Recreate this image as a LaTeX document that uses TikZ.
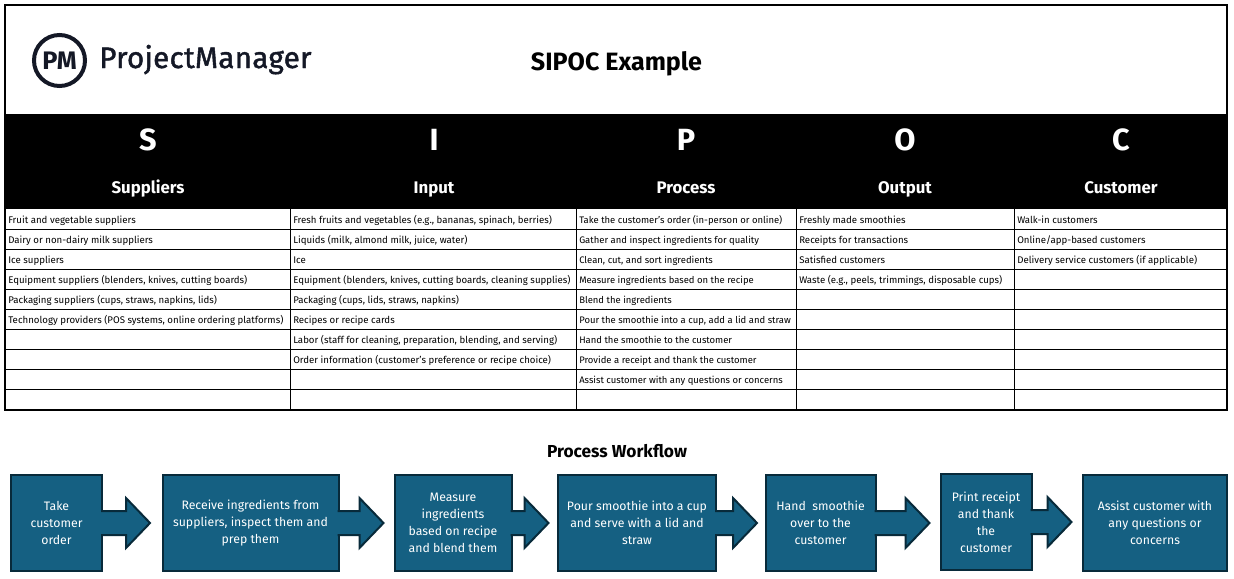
\documentclass[tikz,border=0pt]{standalone}
\usepackage{fontspec}
\setmainfont{Fira Sans}
\usetikzlibrary{positioning,calc}
\definecolor{boxblue}{RGB}{21,96,130}
\definecolor{boxline}{RGB}{8,42,58}
\definecolor{logoink}{RGB}{20,24,38}
\tikzset{
  cell/.style={anchor=base west,inner sep=0pt,font=\fontsize{7.25}{8}\selectfont},
  head/.style={anchor=base,text=white,inner sep=0pt,font=\bfseries\fontsize{12.6}{14}\selectfont},
  letter/.style={anchor=base,text=white,inner sep=0pt,font=\bfseries\fontsize{23}{25}\selectfont},
  stepbox/.style={draw=boxline,line width=1.5pt,fill=boxblue,text=white,align=center,inner sep=0pt,
    font=\fontsize{9.2}{12.8}\selectfont},
  steparrow/.style={draw=boxline,line width=1.5pt,fill=boxblue,line join=miter}
}
\begin{document}
\begin{tikzpicture}[x=0.75pt,y=-0.75pt]
  \useasboundingbox (0,0) rectangle (1234,578);
  % header band and grid
  \fill (5,114) rectangle (1227,209);
  \foreach \y in {229.5,249.5,...,389.5}
    \draw[line width=0.75pt] (5,\y) -- (1227,\y);
  \foreach \x in {290.5,576.5,796.5,1014.5}
    \draw[line width=0.75pt] (\x,209) -- (\x,410);
  \draw[line width=1.5pt] (5,5) rectangle (1227,410);
  % logo
  \node[circle,draw=logoink,line width=3pt,minimum size=38.25pt,inner sep=0pt,text=logoink,
    font=\bfseries\fontsize{19}{21}\selectfont] (logo) at (59.5,60.5) {PM};
  \node[anchor=base west,inner sep=0pt,text=logoink,font=\fontsize{22.2}{24}\selectfont\addfontfeature{LetterSpace=1,FakeBold=1.5}] (brand) at (99,68) {ProjectManager};
  \node[anchor=base,inner sep=0pt,font=\bfseries\fontsize{18.8}{20}\selectfont] (title) at (616.5,70) {SIPOC Example};
  % column heads
  \foreach \n/\x/\l/\h in {s/148/S/Suppliers,i/434/I/Input,p/686/P/Process,o/905/O/Output,c/1121/C/Customer}{
    \node[letter] (let\n) at (\x,150) {\l};
    \node[head] (head\n) at (\x,193.5) {\h};
  }
  % table rows
  \foreach \t [count=\r from 0] in {Fruit and vegetable suppliers,Dairy or non-dairy milk suppliers,Ice suppliers,
    Equipment suppliers (blenders{,} knives{,} cutting boards),Packaging suppliers (cups{,} straws{,} napkins{,} lids),
    Technology providers (POS systems{,} online ordering platforms)}
    \node[cell] (sup\r) at (8,223+20*\r) {\t};
  \foreach \t [count=\r from 0] in {Fresh fruits and vegetables (e.g.{,} bananas{,} spinach{,} berries),Liquids (milk{,} almond milk{,} juice{,} water),Ice,
    Equipment (blenders{,} knives{,} cutting boards{,} cleaning supplies),Packaging (cups{,} lids{,} straws{,} napkins),Recipes or recipe cards,
    Labor (staff for cleaning{,} preparation{,} blending{,} and serving),Order information (customer's preference or recipe choice)}
    \node[cell] (inp\r) at (293,223+20*\r) {\t};
  \foreach \t [count=\r from 0] in {Take the customer's order (in-person or online),Gather and inspect ingredients for quality,Clean{,} cut{,} and sort ingredients,
    Measure ingredients based on the recipe,Blend the ingredients,Pour the smoothie into a cup{,} add a lid and straw,
    Hand the smoothie to the customer,Provide a receipt and thank the customer,Assist customer with any questions or concerns}
    \node[cell,font=\fontsize{7.1}{8}\selectfont] (pro\r) at (579,223+20*\r) {\t};
  \foreach \t [count=\r from 0] in {Freshly made smoothies,Receipts for transactions,Satisfied customers,Waste (e.g.{,} peels{,} trimmings{,} disposable cups)}
    \node[cell] (out\r) at (799,223+20*\r) {\t};
  \foreach \t [count=\r from 0] in {Walk-in customers,Online/app-based customers,Delivery service customers (if applicable)}
    \node[cell] (cus\r) at (1017,223+20*\r) {\t};
  % workflow
  \node[anchor=base,inner sep=0pt,font=\bfseries\fontsize{13}{15}\selectfont] (flow) at (617,457.5) {Process Workflow};
  \foreach \n/\x/\y/\w/\t in {
    a/56.5/523/91/{Take\\customer\\order},
    b/250.5/523/176/{Receive ingredients from\\suppliers, inspect them and\\prep them},
    c/453/523/117/{Measure\\ingredients\\based on recipe\\and blend them},
    d/637/523/158/{Pour smoothie into a cup\\and serve with a lid and\\straw},
    e/820.5/523/110/{Hand\ \ smoothie\\over to the\\customer},
    f/986/522/91/{Print receipt\\and thank\\the\\customer},
    g/1155/522.5/144.5/{Assist customer with\\any questions or\\concerns}}
    \node[stepbox,minimum width=\w*0.75pt,minimum height=96*0.75pt] (\n) at (\x,\y) {\t};
  % arrows out of the boxes
  \foreach \n/\s in {a/24,b/21,c/13,d/17,e/30,f/16}
    \draw[steparrow] ($(\n.east)+(-2,-12)$) -- ++(\s+1,0) -- ++(0,-13) -- ++(24,25) -- ++(-24,25) -- ++(0,-13) -- ++(-\s-1,0);
\end{tikzpicture}
\end{document}
